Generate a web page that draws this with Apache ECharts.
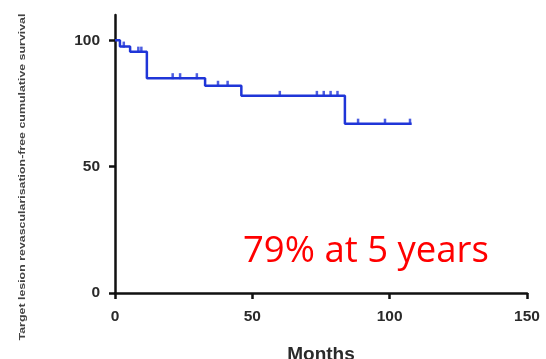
<!DOCTYPE html>
<html>
<head>
<meta charset="utf-8">
<script src="https://cdn.jsdelivr.net/npm/echarts@6/dist/echarts.min.js"></script>
<style>
  html, body { margin: 0; padding: 0; background: #fff; }
  #chart { width: 546px; height: 359px; }
</style>
</head>
<body>
<div id="chart"></div>
<script>
// Kaplan-Meier step curve: event times (months) and survival (%) after each step
const stepMonths   = [0, 1.8, 5.5, 11.6, 32.8, 46, 83.7, 108];
const stepSurvival = [100, 97.5, 95.5, 85, 82, 78, 67, 67];

// Censored observations: time (months) and survival level at that time
const censorMonths   = [3.2, 8.5, 9.6, 21, 23.7, 29.8, 37.5, 41, 60, 73.5, 76, 78.5, 81, 88.5, 98.3, 107.4];
const censorSurvival = [97.5, 95.5, 95.5, 85, 85, 85, 82, 82, 78, 78, 78, 78, 78, 67, 67, 67];

const xTicks = [0, 50, 100, 150];
const yTicks = [0, 50, 100];

const yTitle = 'Target lesion revascularisation-free cumulative survival';
const xTitle = 'Months';
const note = '79% at 5 years';

const curve = stepMonths.map((m, i) => [m, stepSurvival[i]]);
const censored = censorMonths.map((m, i) => [m, censorSurvival[i]]);

const chart = echarts.init(document.getElementById('chart'));
const axisText = { color: '#2a2a2a', fontFamily: 'Liberation Sans', fontWeight: 'bold', fontSize: 15.5 };

chart.setOption({
  animation: false,
  grid: { left: 115, right: 19, top: 15, bottom: 66, outerBoundsMode: 'none', containLabel: false },
  xAxis: {
    type: 'value', min: 0, max: 150, interval: 50,
    name: xTitle, nameLocation: 'middle', nameGap: 52,
    nameTextStyle: { color: '#2a2a2a', fontFamily: 'Liberation Sans', fontWeight: 'bold', fontSize: 19 },
    axisLine: { show: true, onZero: false, lineStyle: { color: '#111', width: 2.5 } },
    axisTick: { show: true, length: 6, lineStyle: { color: '#111', width: 2.5 }, customValues: xTicks },
    axisLabel: Object.assign({ margin: 16, customValues: xTicks }, axisText),
    splitLine: { show: false }
  },
  yAxis: {
    type: 'value', min: 0, max: 110, interval: 50,
    axisLine: { show: true, onZero: false, lineStyle: { color: '#111', width: 2.5 } },
    axisTick: { show: true, length: 6, lineStyle: { color: '#111', width: 2.5 }, customValues: yTicks },
    axisLabel: Object.assign({ margin: 15, customValues: yTicks }, axisText),
    splitLine: { show: false }
  },
  series: [
    {
      type: 'line', step: 'end', data: curve,
      showSymbol: false, symbol: 'none',
      lineStyle: { color: '#1f35d8', width: 2.5 }
    },
    {
      type: 'scatter', data: censored,
      symbol: 'rect', symbolSize: [2.5, 6], symbolOffset: [0, -2],
      itemStyle: { color: '#1f35d8' }
    }
  ],
  graphic: [
    {
      type: 'text', x: 22, y: 177, rotation: Math.PI / 2, scaleY: 0.8,
      style: {
        text: yTitle, fill: '#444', font: 'bold 12.4px "Liberation Sans"',
        align: 'center', verticalAlign: 'middle'
      }
    },
    {
      type: 'text', x: 243, y: 252,
      style: {
        text: note, fill: '#ff0000', font: '36.5px "Open Sans"',
        align: 'left', verticalAlign: 'middle'
      }
    }
  ]
});
</script>
</body>
</html>
